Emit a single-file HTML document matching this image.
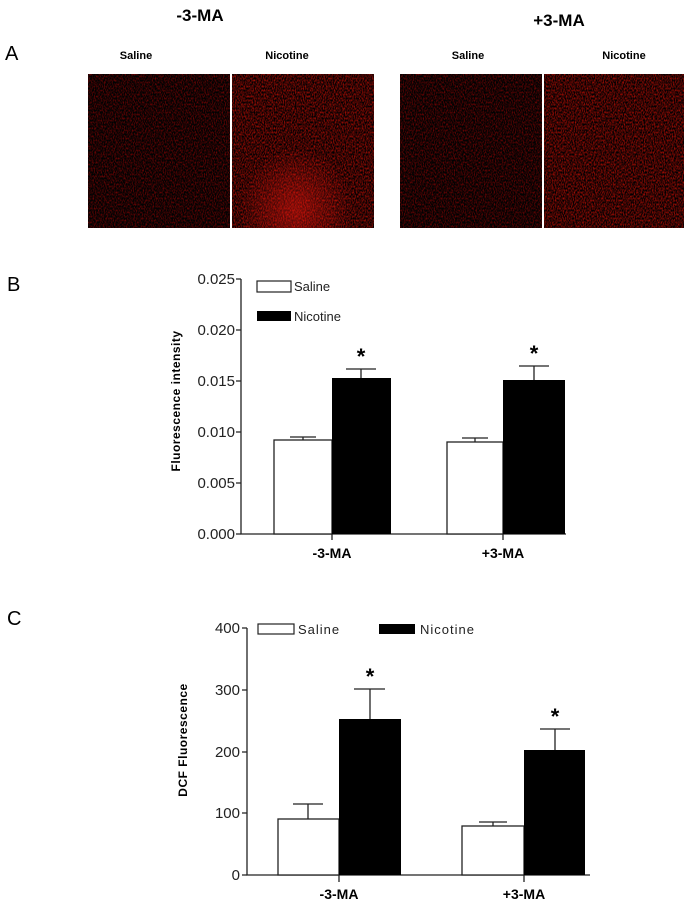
<!DOCTYPE html>
<html><head><meta charset="utf-8"><style>
html,body{margin:0;padding:0;background:#fff;width:691px;height:902px;overflow:hidden}
svg{display:block}
text{font-family:"Liberation Sans",Arial,sans-serif}
</style></head><body>
<svg width="691" height="902" viewBox="0 0 691 902" xmlns="http://www.w3.org/2000/svg">
<defs>
<filter id="n1" x="0" y="0" width="100%" height="100%" color-interpolation-filters="sRGB">
<feTurbulence type="fractalNoise" baseFrequency="0.9 0.5" numOctaves="2" seed="3"/>
<feColorMatrix type="matrix" values="0 0 0 1.0 -0.38  0 0 0 0 0.01  0 0 0 0 0.01  0 0 0 0 1"/>
</filter>
<filter id="n2" x="0" y="0" width="100%" height="100%" color-interpolation-filters="sRGB">
<feTurbulence type="fractalNoise" baseFrequency="0.9 0.5" numOctaves="2" seed="7"/>
<feColorMatrix type="matrix" values="0 0 0 1.3 -0.42  0 0 0 0.08 -0.02  0 0 0 0 0.01  0 0 0 0 1"/>
</filter>
<radialGradient id="hot" cx="0.45" cy="0.88" r="0.4"><stop offset="0" stop-color="#ff1a10" stop-opacity="0.45"/><stop offset="1" stop-color="#ff1a10" stop-opacity="0"/></radialGradient>
</defs>

<!-- Panel A -->
<text x="200" y="21" font-size="17" font-weight="bold" text-anchor="middle">-3-MA</text>
<text x="559" y="26" font-size="17" font-weight="bold" text-anchor="middle">+3-MA</text>
<text x="5" y="60" font-size="20">A</text>
<g font-size="11" font-weight="bold" text-anchor="middle">
<text x="136" y="59">Saline</text><text x="287" y="59">Nicotine</text>
<text x="468" y="59">Saline</text><text x="624" y="59">Nicotine</text>
</g>
<rect x="88" y="74" width="142" height="154" filter="url(#n1)"/>
<rect x="232" y="74" width="142" height="154" filter="url(#n2)"/>
<rect x="232" y="74" width="142" height="154" fill="url(#hot)"/>
<rect x="400" y="74" width="142" height="154" filter="url(#n1)"/>
<rect x="544" y="74" width="140" height="154" filter="url(#n2)"/>

<!-- Panel B -->
<text x="7" y="291" font-size="20">B</text>
<text transform="translate(180,401) rotate(-90)" font-size="12" font-weight="bold" text-anchor="middle" letter-spacing="0.5">Fluorescence intensity</text>
<g font-size="15" text-anchor="end" fill="#222">
<text x="235" y="284">0.025</text><text x="235" y="335">0.020</text><text x="235" y="386">0.015</text>
<text x="235" y="437">0.010</text><text x="235" y="488">0.005</text><text x="235" y="539">0.000</text>
</g>
<g stroke="#222" stroke-width="1.3" fill="none">
<path d="M241,279V534H566"/>
<path d="M236,279H241M236,330H241M236,381H241M236,432H241M236,483H241M236,534H241"/>
<path d="M332,534v6M503,534v6"/>
</g>
<g stroke="#222" stroke-width="1.3">
<path d="M303,440V437M290,437H316"/>
<path d="M361,378V369M346,369H376"/>
<path d="M475,442V438M462,438H488"/>
<path d="M534,380V366M519,366H549"/>
</g>
<rect x="274" y="440" width="58" height="94" fill="#fff" stroke="#222" stroke-width="1.3"/>
<rect x="332" y="378" width="59" height="156" fill="#000"/>
<rect x="447" y="442" width="56" height="92" fill="#fff" stroke="#222" stroke-width="1.3"/>
<rect x="503" y="380" width="62" height="154" fill="#000"/>
<g font-size="22" font-weight="bold" text-anchor="middle"><text x="361" y="364">*</text><text x="534" y="361">*</text></g>
<rect x="257" y="281" width="34" height="11" fill="#fff" stroke="#222" stroke-width="1.2"/>
<rect x="257" y="311" width="34" height="10" fill="#000"/>
<g font-size="13" fill="#222"><text x="294" y="291">Saline</text><text x="294" y="321">Nicotine</text></g>
<g font-size="14" font-weight="bold" text-anchor="middle"><text x="332" y="558">-3-MA</text><text x="503" y="558">+3-MA</text></g>

<!-- Panel C -->
<text x="7" y="625" font-size="20">C</text>
<text transform="translate(187,740) rotate(-90)" font-size="12" font-weight="bold" text-anchor="middle" letter-spacing="0.5">DCF Fluorescence</text>
<g font-size="15" text-anchor="end" fill="#222">
<text x="240" y="633">400</text><text x="240" y="695">300</text><text x="240" y="757">200</text>
<text x="240" y="818">100</text><text x="240" y="880">0</text>
</g>
<g stroke="#222" stroke-width="1.3" fill="none">
<path d="M247,628V875H590"/>
<path d="M242,628H247M242,690H247M242,752H247M242,813H247M242,875H247"/>
<path d="M339,875v7M524,875v7"/>
<path d="M308,819V804M293,804H323"/>
<path d="M370,719V689M354,689H385"/>
<path d="M493,826V822M479,822H507"/>
<path d="M555,750V729M540,729H570"/>
</g>
<rect x="278" y="819" width="61" height="56" fill="#fff" stroke="#222" stroke-width="1.3"/>
<rect x="339" y="719" width="62" height="156" fill="#000"/>
<rect x="462" y="826" width="62" height="49" fill="#fff" stroke="#222" stroke-width="1.3"/>
<rect x="524" y="750" width="61" height="125" fill="#000"/>
<g font-size="22" font-weight="bold" text-anchor="middle"><text x="370" y="684">*</text><text x="555" y="724">*</text></g>
<rect x="258" y="624" width="36" height="10" fill="#fff" stroke="#222" stroke-width="1.2"/>
<rect x="379" y="624" width="36" height="10" fill="#000"/>
<g font-size="13" fill="#222" letter-spacing="1"><text x="298" y="634">Saline</text><text x="420" y="634">Nicotine</text></g>
<g font-size="14" font-weight="bold" text-anchor="middle"><text x="339" y="899">-3-MA</text><text x="524" y="899">+3-MA</text></g>
</svg>
</body></html>
